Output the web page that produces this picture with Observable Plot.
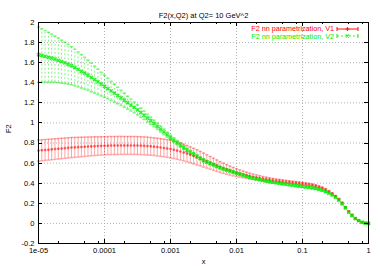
<!DOCTYPE html>
<html><head><meta charset="utf-8">
<script src="https://cdn.jsdelivr.net/npm/d3@7"></script>
<script src="https://cdn.jsdelivr.net/npm/@observablehq/plot@0.6"></script>
<style>body{margin:0;background:#fff}svg{display:block}</style>
</head><body><div id="chart"></div>
<script>
const xValues = [
1e-5,1.122e-5,1.259e-5,1.413e-5,1.585e-5,1.778e-5,1.995e-5,2.239e-5,2.512e-5,2.818e-5,3.162e-5,3.548e-5,3.981e-5,4.467e-5,5.012e-5,5.623e-5,6.31e-5,7.079e-5,7.943e-5,8.913e-5,
1e-4,1.122e-4,1.259e-4,1.413e-4,1.585e-4,1.778e-4,1.995e-4,2.239e-4,2.512e-4,2.818e-4,3.162e-4,3.548e-4,3.981e-4,4.467e-4,5.012e-4,5.623e-4,6.31e-4,7.079e-4,7.943e-4,8.913e-4,
1e-3,1.122e-3,1.259e-3,1.413e-3,1.585e-3,1.778e-3,1.995e-3,2.239e-3,2.512e-3,2.818e-3,3.162e-3,3.548e-3,3.981e-3,4.467e-3,5.012e-3,5.623e-3,6.31e-3,7.079e-3,7.943e-3,8.913e-3,
1e-2,1.122e-2,1.259e-2,1.413e-2,1.585e-2,1.778e-2,1.995e-2,2.239e-2,2.512e-2,2.818e-2,3.162e-2,3.548e-2,3.981e-2,4.467e-2,5.012e-2,5.623e-2,6.31e-2,7.079e-2,7.943e-2,8.913e-2,
0.1,0.1122,0.1259,0.1413,0.1585,0.1778,0.1995,0.2239,0.2512,0.2818,0.3162,0.3548,0.3981,0.4467,0.5012,0.5623,0.631,0.7079,0.7943,0.8913,
1];
const v1 = [
0.725,0.728,0.731,0.734,0.737,0.740,0.743,0.746,0.749,0.752,0.755,
0.757,0.759,0.761,0.763,0.765,0.767,0.769,0.770,0.772,0.773,
0.774,0.775,0.775,0.776,0.776,0.776,0.776,0.776,0.776,0.775,
0.774,0.772,0.770,0.767,0.764,0.760,0.756,0.751,0.746,0.740,
0.733,0.725,0.716,0.706,0.695,0.683,0.671,0.658,0.645,0.631,
0.617,0.603,0.589,0.575,0.562,0.549,0.537,0.526,0.515,0.505,
0.496,0.487,0.479,0.471,0.464,0.458,0.452,0.446,0.441,0.436,
0.431,0.427,0.423,0.419,0.415,0.412,0.408,0.405,0.401,0.397,
0.393,0.388,0.382,0.374,0.364,0.352,0.337,0.318,0.296,0.270,
0.240,0.203,0.160,0.118,0.082,0.050,0.027,0.012,0.004,0.000];
const e1 = [
0.105,0.1045,0.104,0.1035,0.103,0.1025,0.102,0.1015,0.101,0.1005,0.100,
0.099,0.098,0.097,0.096,0.095,0.094,0.093,0.092,0.091,0.090,
0.090,0.090,0.090,0.090,0.090,0.089,0.089,0.089,0.089,0.089,
0.089,0.089,0.089,0.088,0.088,0.088,0.088,0.088,0.088,0.088,
0.087,0.086,0.085,0.083,0.081,0.079,0.077,0.075,0.072,0.069,
0.066,0.063,0.060,0.057,0.054,0.051,0.048,0.045,0.042,0.039,
0.036,0.033,0.031,0.029,0.027,0.025,0.023,0.021,0.020,0.018,
0.017,0.016,0.015,0.015,0.014,0.013,0.013,0.012,0.012,0.011,
0.011,0.011,0.010,0.010,0.010,0.010,0.010,0.009,0.009,0.009,
0.009,0.009,0.008,0.008,0.008,0.007,0.007,0.006,0.006,0.005];
const v2 = [
1.680,1.672,1.663,1.654,1.645,1.635,1.623,1.610,1.597,1.584,1.570,
1.552,1.533,1.514,1.495,1.475,1.453,1.431,1.409,1.387,1.365,
1.342,1.319,1.296,1.273,1.250,1.226,1.202,1.178,1.154,1.130,
1.103,1.076,1.049,1.022,0.995,0.967,0.939,0.911,0.883,0.855,
0.830,0.805,0.780,0.755,0.730,0.709,0.689,0.668,0.648,0.628,
0.613,0.598,0.584,0.569,0.555,0.544,0.533,0.522,0.511,0.500,
0.490,0.480,0.470,0.460,0.451,0.444,0.437,0.429,0.422,0.415,
0.410,0.405,0.400,0.395,0.390,0.386,0.381,0.377,0.372,0.368,
0.364,0.360,0.354,0.348,0.340,0.330,0.317,0.302,0.284,0.262,
0.232,0.195,0.154,0.112,0.077,0.048,0.027,0.012,0.004,0.000];
const e2 = [
0.275,0.266,0.257,0.248,0.239,0.230,0.222,0.214,0.206,0.198,0.190,
0.182,0.174,0.166,0.158,0.150,0.142,0.134,0.126,0.118,0.110,
0.103,0.096,0.089,0.082,0.076,0.070,0.064,0.059,0.054,0.050,
0.046,0.042,0.039,0.036,0.033,0.031,0.029,0.027,0.025,0.023,
0.022,0.021,0.020,0.019,0.018,0.017,0.016,0.016,0.015,0.015,
0.014,0.014,0.013,0.013,0.012,0.012,0.011,0.011,0.010,0.010,
0.010,0.010,0.009,0.009,0.009,0.009,0.009,0.009,0.009,0.009,
0.009,0.009,0.009,0.009,0.009,0.009,0.009,0.009,0.009,0.009,
0.008,0.008,0.008,0.008,0.008,0.008,0.008,0.008,0.008,0.008,
0.007,0.007,0.007,0.007,0.007,0.006,0.006,0.006,0.006,0.006];
const xTicks = [1e-5,1e-4,1e-3,1e-2,1e-1,1];
const xTickLabels = ["1e-05","0.0001","0.001","0.01","0.1","1"];
const xMinorTicks = [2e-5,5e-5,8e-5,2e-4,5e-4,8e-4,2e-3,5e-3,8e-3,2e-2,5e-2,8e-2,0.2,0.5,0.8];
const yTicks = [-0.2,0,0.2,0.4,0.6,0.8,1,1.2,1.4,1.6,1.8,2];
const yTickLabels = ["-0.2","0","0.2","0.4","0.6","0.8","1","1.2","1.4","1.6","1.8","2"];
const title = "F2(x,Q2) at Q2= 10 GeV^2";
const xLabel = "x";
const yLabel = "F2";
const seriesNames = ["F2 nn parametrization, V1","F2 nn parametrization, V2"];
const colors = ["#ff0000","#00ee00"];

(function(){
const data = xValues.map((x,i)=>({x, v1:v1[i], e1:e1[i], v2:v2[i], e2:e2[i]}));
const FONT = "'Liberation Sans', Arial, sans-serif";
const cap = {draw(c){c.moveTo(-1.6,0);c.lineTo(1.6,0);}};
const plus = {draw(c){c.moveTo(-1.3,0);c.lineTo(1.3,0);c.moveTo(0,-1.3);c.lineTo(0,1.3);}};
const cross = {draw(c){c.moveTo(-1.6,-1.6);c.lineTo(1.6,1.6);c.moveTo(-1.6,1.6);c.lineTo(1.6,-1.6);}};
const gridStyle = {stroke:"#a0a0a0", strokeDasharray:"1,2", strokeWidth:0.8};

const plot = Plot.plot({
  width:380, height:266,
  marginLeft:38, marginRight:12, marginTop:22, marginBottom:23,
  style:{fontFamily:FONT, fontSize:"7.5px", background:"#fff", overflow:"visible"},
  x:{type:"log", domain:[1e-5,1], axis:null},
  y:{domain:[-0.2,2], axis:null},
  marks:[
    Plot.ruleX(xTicks.slice(1,-1), {x:d=>d, ...gridStyle}),
    Plot.ruleY(yTicks.slice(1,-1), {y:d=>d, ...gridStyle}),
    Plot.ruleX(data, {x:"x", y1:d=>d.v1-d.e1, y2:d=>d.v1+d.e1, stroke:colors[0], strokeOpacity:0.35}),
    Plot.dot(data, {x:"x", y:d=>d.v1+d.e1, symbol:cap, fill:"none", stroke:colors[0], strokeOpacity:0.35}),
    Plot.dot(data, {x:"x", y:d=>d.v1-d.e1, symbol:cap, fill:"none", stroke:colors[0], strokeOpacity:0.35}),
    Plot.ruleX(data, {x:"x", y1:d=>d.v2-d.e2, y2:d=>d.v2+d.e2, stroke:colors[1], strokeOpacity:0.5, strokeDasharray:"2,2"}),
    Plot.dot(data, {x:"x", y:d=>d.v2+d.e2, symbol:cap, fill:"none", stroke:colors[1], strokeOpacity:0.5}),
    Plot.dot(data, {x:"x", y:d=>d.v2-d.e2, symbol:cap, fill:"none", stroke:colors[1], strokeOpacity:0.5}),
    Plot.dot(data, {x:"x", y:"v1", symbol:plus, fill:"none", stroke:colors[0], strokeOpacity:0.6}),
    Plot.dot(data, {x:"x", y:"v2", symbol:cross, fill:"none", stroke:colors[1], strokeOpacity:0.8}),
    Plot.frame({stroke:"#000", strokeWidth:1}),
    Plot.text(xTicks, {x:d=>d, frameAnchor:"bottom", dy:9.5, text:(d,i)=>xTickLabels[i], fill:"#000"}),
    Plot.text(yTicks, {y:d=>d, frameAnchor:"left", dx:-4, textAnchor:"end", text:(d,i)=>yTickLabels[i], fill:"#000"}),
    Plot.text([title], {frameAnchor:"top", dy:-10, text:d=>d, fill:"#000"}),
    Plot.text([xLabel], {frameAnchor:"bottom", dy:20, text:d=>d, fill:"#000"}),
    Plot.text([yLabel], {frameAnchor:"left", dx:-30, rotate:-90, text:d=>d, fill:"#000"})
  ]
});
document.getElementById("chart").appendChild(plot);

const sx = plot.scale("x"), sy = plot.scale("y");
const svg = d3.select(plot);
const fL = 38, fR = 380-12, fT = 22, fB = 266-23;
const g = svg.append("g").attr("stroke","#000").attr("stroke-width",1).attr("fill","none");
function tickX(v, len){ const px = Math.round(sx.apply(v))+0.5;
  g.append("line").attr("x1",px).attr("x2",px).attr("y1",fB).attr("y2",fB-len);
  g.append("line").attr("x1",px).attr("x2",px).attr("y1",fT).attr("y2",fT+len); }
xTicks.forEach(v=>tickX(v,4));
xMinorTicks.forEach(v=>tickX(v,2));
yTicks.forEach(v=>{ const py = Math.round(sy.apply(v))+0.5;
  g.append("line").attr("x1",fL).attr("x2",fL+4).attr("y1",py).attr("y2",py);
  g.append("line").attr("x1",fR).attr("x2",fR-4).attr("y1",py).attr("y2",py); });

const rows = [{y:28.5, dash:null, m:"plus"},{y:36.3, dash:"2,2", m:"cross"}];
rows.forEach((r,i)=>{
  svg.append("text").attr("x",334).attr("y",r.y).attr("dy","0.32em")
    .attr("text-anchor","end").attr("fill",colors[i]).attr("font-family",FONT).attr("font-size","7.2px")
    .text(seriesNames[i]);
  const yy = Math.round(r.y);
  svg.append("path").attr("d",`M337,${yy}H358`).attr("fill","none").attr("stroke",colors[i]).attr("stroke-width",1.2).attr("stroke-opacity",0.8).attr("stroke-dasharray",r.dash);
  svg.append("path").attr("d",`M337,${yy-2}V${yy+2}M358,${yy-2}V${yy+2}` + (r.m==="plus" ? `M345.5,${yy}h4M347.5,${yy-2}v4` : `M346,${yy-1.5}l3,3M346,${yy+1.5}l3,-3`))
    .attr("fill","none").attr("stroke",colors[i]).attr("stroke-width",1.2).attr("stroke-opacity",0.8);
});
})();
</script></body></html>
